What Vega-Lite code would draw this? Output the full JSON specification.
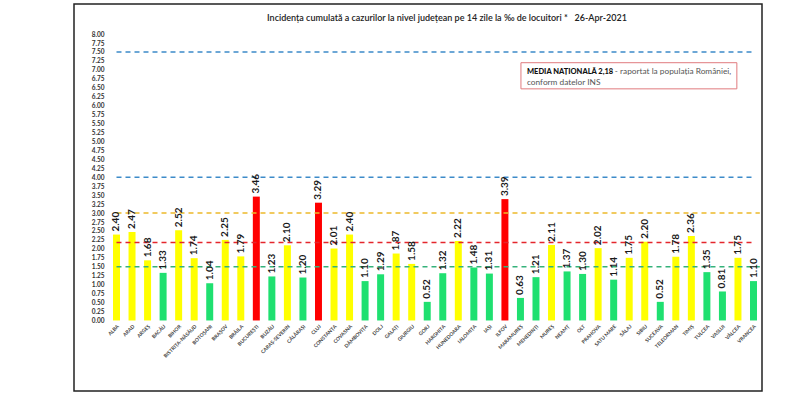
{
  "$schema": "https://vega.github.io/schema/vega-lite/v6.json",
  "description": "Incidenta cumulata pe 14 zile la mia de locuitori, pe judete, 26-Apr-2021.",
  "autosize": {"type": "none"},
  "width": 688,
  "height": 387,
  "padding": {"left": 74, "top": 4, "right": 38, "bottom": 23},
  "background": "white",
  "title": {
    "text": "Incidența cumulată a cazurilor la nivel județean pe 14 zile la ‰ de locuitori *\u00a0\u00a0\u00a026-Apr-2021",
    "font": "Lato",
    "fontSize": 9,
    "fontWeight": 600,
    "color": "#222",
    "anchor": "middle",
    "dx": 29,
    "offset": -19
  },
  "data": {
    "values": [
      {"judet": "ALBA", "incidenta": 2.40},
      {"judet": "ARAD", "incidenta": 2.47},
      {"judet": "ARGEȘ", "incidenta": 1.68},
      {"judet": "BACĂU", "incidenta": 1.33},
      {"judet": "BIHOR", "incidenta": 2.52},
      {"judet": "BISTRIȚA-NĂSĂUD", "incidenta": 1.74},
      {"judet": "BOTOȘANI", "incidenta": 1.04},
      {"judet": "BRAȘOV", "incidenta": 2.25},
      {"judet": "BRĂILA", "incidenta": 1.79},
      {"judet": "BUCUREȘTI", "incidenta": 3.46},
      {"judet": "BUZĂU", "incidenta": 1.23},
      {"judet": "CARAȘ-SEVERIN", "incidenta": 2.10},
      {"judet": "CĂLĂRAȘI", "incidenta": 1.20},
      {"judet": "CLUJ", "incidenta": 3.29},
      {"judet": "CONSTANȚA", "incidenta": 2.01},
      {"judet": "COVASNA", "incidenta": 2.40},
      {"judet": "DÂMBOVIȚA", "incidenta": 1.10},
      {"judet": "DOLJ", "incidenta": 1.29},
      {"judet": "GALAȚI", "incidenta": 1.87},
      {"judet": "GIURGIU", "incidenta": 1.58},
      {"judet": "GORJ", "incidenta": 0.52},
      {"judet": "HARGHITA", "incidenta": 1.32},
      {"judet": "HUNEDOARA", "incidenta": 2.22},
      {"judet": "IALOMIȚA", "incidenta": 1.48},
      {"judet": "IAȘI", "incidenta": 1.31},
      {"judet": "ILFOV", "incidenta": 3.39},
      {"judet": "MARAMUREȘ", "incidenta": 0.63},
      {"judet": "MEHEDINȚI", "incidenta": 1.21},
      {"judet": "MUREȘ", "incidenta": 2.11},
      {"judet": "NEAMȚ", "incidenta": 1.37},
      {"judet": "OLT", "incidenta": 1.30},
      {"judet": "PRAHOVA", "incidenta": 2.02},
      {"judet": "SATU MARE", "incidenta": 1.14},
      {"judet": "SĂLAJ", "incidenta": 1.75},
      {"judet": "SIBIU", "incidenta": 2.20},
      {"judet": "SUCEAVA", "incidenta": 0.52},
      {"judet": "TELEORMAN", "incidenta": 1.78},
      {"judet": "TIMIȘ", "incidenta": 2.36},
      {"judet": "TULCEA", "incidenta": 1.35},
      {"judet": "VASLUI", "incidenta": 0.81},
      {"judet": "VÂLCEA", "incidenta": 1.75},
      {"judet": "VRANCEA", "incidenta": 1.10}
    ]
  },
  "encoding": {
    "x": {
      "field": "judet",
      "type": "nominal",
      "sort": null,
      "title": null,
      "scale": {"range": [39, 683], "paddingInner": 0.55, "paddingOuter": 0},
      "axis": {
        "orient": "bottom",
        "offset": -70.5,
        "labelAngle": -45,
        "labelFont": "Lato",
        "labelFontSize": 5,
        "labelFontWeight": "bold",
        "labelColor": "#444",
        "labelPadding": 3,
        "ticks": false,
        "domain": false
      }
    },
    "y": {
      "type": "quantitative",
      "title": null,
      "scale": {"domain": [-1.97, 8.84], "nice": false, "zero": false},
      "axis": {
        "orient": "left",
        "offset": -31,
        "values": [0, 0.25, 0.5, 0.75, 1, 1.25, 1.5, 1.75, 2, 2.25, 2.5, 2.75, 3, 3.25, 3.5, 3.75, 4, 4.25, 4.5, 4.75, 5, 5.25, 5.5, 5.75, 6, 6.25, 6.5, 6.75, 7, 7.25, 7.5, 7.75, 8],
        "format": ".2f",
        "labelFont": "Lato",
        "labelFontSize": 6.5,
        "labelFontWeight": "bold",
        "labelColor": "#333",
        "labelPadding": 1,
        "ticks": false,
        "domain": false,
        "grid": false
      }
    }
  },
  "layer": [
    {
      "mark": {"type": "bar", "stroke": null},
      "encoding": {
        "y": {"field": "incidenta"},
        "color": {
          "field": "incidenta",
          "type": "quantitative",
          "scale": {"type": "threshold", "domain": [1.5, 3.0], "range": ["#1FE070", "#FFFF00", "#FF0000"]},
          "legend": null
        },
        "tooltip": [
          {"field": "judet", "type": "nominal", "title": "Județ"},
          {"field": "incidenta", "type": "quantitative", "title": "Incidența", "format": ".2f"}
        ]
      }
    },
    {
      "data": {"values": [{}]},
      "mark": {"type": "rule", "strokeWidth": 1.6, "strokeDash": [5, 4], "color": "#3D8BC9"},
      "encoding": {
        "x": {"datum": "ALBA", "bandPosition": 0.5},
        "x2": {"datum": "VRANCEA", "bandPosition": 0.3},
        "y": {"datum": 7.5}
      }
    },
    {
      "data": {"values": [{}]},
      "mark": {"type": "rule", "strokeWidth": 1.6, "strokeDash": [5, 4], "color": "#3D8BC9"},
      "encoding": {
        "x": {"datum": "ALBA", "bandPosition": 0.5},
        "x2": {"datum": "VRANCEA", "bandPosition": 0.3},
        "y": {"datum": 4}
      }
    },
    {
      "data": {"values": [{}]},
      "mark": {"type": "rule", "strokeWidth": 1.6, "strokeDash": [5, 4], "color": "#EDB92A"},
      "encoding": {
        "x": {"datum": "ALBA", "bandPosition": 0.5},
        "x2": {"datum": "VRANCEA", "bandPosition": 1.4},
        "y": {"datum": 3}
      }
    },
    {
      "data": {"values": [{}]},
      "mark": {"type": "rule", "strokeWidth": 1.6, "strokeDash": [5, 4], "color": "#E4262C"},
      "encoding": {
        "x": {"datum": "ALBA", "bandPosition": 0.5},
        "x2": {"datum": "VRANCEA", "bandPosition": 0.4},
        "y": {"datum": 2.18}
      }
    },
    {
      "data": {"values": [{}]},
      "mark": {"type": "rule", "strokeWidth": 1.6, "strokeDash": [5, 4], "color": "#35B27A"},
      "encoding": {
        "x": {"datum": "ALBA", "bandPosition": 0.5},
        "x2": {"datum": "VRANCEA", "bandPosition": 1.4},
        "y": {"datum": 1.5}
      }
    },
    {
      "mark": {"type": "text", "angle": -90, "align": "left", "baseline": "middle", "dx": 3, "font": "Lato", "fontSize": 10, "fontWeight": "bold", "color": "#1a1a1a"},
      "encoding": {
        "y": {"field": "incidenta"},
        "text": {"field": "incidenta", "type": "quantitative", "format": ".2f"}
      }
    },
    {
      "data": {"values": [{}]},
      "mark": {"type": "rect", "fill": "white", "stroke": "#E07A7E", "strokeWidth": 1},
      "encoding": {
        "x": {"datum": "MARAMUREȘ", "bandPosition": 0.57},
        "x2": {"datum": "VÂLCEA", "bandPosition": 0.34},
        "y": {"datum": 7.2},
        "y2": {"datum": 6.47}
      }
    },
    {
      "data": {"values": [{}]},
      "mark": {"type": "text", "align": "left", "baseline": "middle", "font": "Lato", "fontSize": 7.5, "fontWeight": 900, "color": "#111"},
      "encoding": {
        "x": {"datum": "MARAMUREȘ", "bandPosition": 1.43},
        "y": {"datum": 6.93},
        "text": {"value": "MEDIA NAȚIONALĂ  2,18"}
      }
    },
    {
      "data": {"values": [{}]},
      "mark": {"type": "text", "align": "left", "baseline": "middle", "font": "Lato", "fontSize": 8.3, "color": "#555"},
      "encoding": {
        "x": {"datum": "SATU MARE", "bandPosition": 0.67},
        "y": {"datum": 6.93},
        "text": {"value": "- raportat la populația României,"}
      }
    },
    {
      "data": {"values": [{}]},
      "mark": {"type": "text", "align": "left", "baseline": "middle", "font": "Lato", "fontSize": 8.3, "color": "#555"},
      "encoding": {
        "x": {"datum": "MARAMUREȘ", "bandPosition": 1.43},
        "y": {"datum": 6.62},
        "text": {"value": "conform datelor INS"}
      }
    }
  ],
  "config": {
    "view": {"stroke": "#222", "strokeWidth": 1.5}
  }
}
